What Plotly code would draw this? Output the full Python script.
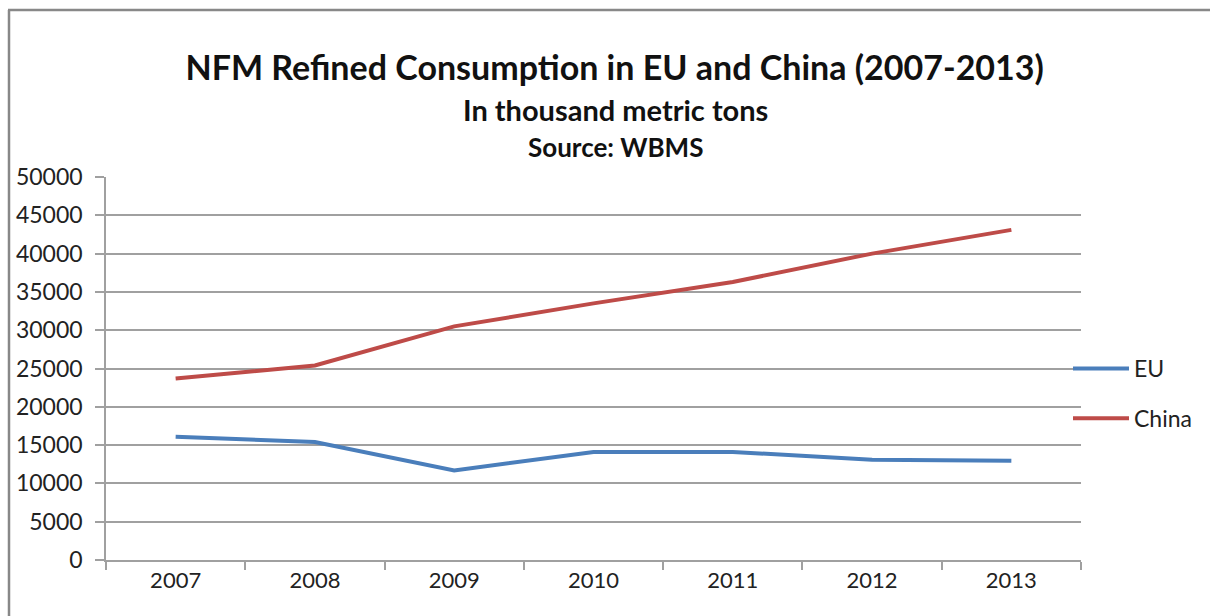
import plotly.graph_objects as go

years = ["2007", "2008", "2009", "2010", "2011", "2012", "2013"]
eu = [16100, 15400, 11700, 14100, 14100, 13100, 12950]
china = [23700, 25400, 30500, 33500, 36300, 40000, 43100]
y_ticks = [0, 5000, 10000, 15000, 20000, 25000, 30000, 35000, 40000, 45000, 50000]

FONT = "Lato"
W, H = 1210, 616
L, R, T, B = 106, 1081, 177, 560

fig = go.Figure()
fig.add_trace(go.Scatter(x=years, y=eu, name="EU", mode="lines",
                         line=dict(color="#4A7EBB", width=4), legendgroup="a"))
fig.add_trace(go.Scatter(x=years, y=china, name="China", mode="lines",
                         line=dict(color="#BE4B48", width=4), legendgroup="b"))

def py(px):
    return 1 + (T - px) / (B - T)

def pxp(px):
    return (px - L) / (R - L)

fig.update_layout(
    width=W, height=H, autosize=False,
    margin=dict(l=L, r=W - R, t=T, b=H - B, pad=0),
    paper_bgcolor="white", plot_bgcolor="white",
    font=dict(family=FONT, color="#222222", size=22),
    title=dict(text="<b>NFM Refined Consumption in EU and China (2007-2013)</b>",
               x=0.508, xanchor="center", y=1 - 68 / H, yanchor="middle",
               font=dict(family=FONT, size=34, color="#111111")),
    showlegend=True,
    legend=dict(x=pxp(1068), xanchor="left", y=py(393.5), yanchor="middle",
                font=dict(family=FONT, size=23, color="#222222"),
                tracegroupgap=17, bgcolor="rgba(0,0,0,0)", itemwidth=56),
    xaxis=dict(type="category", range=[-0.5, 6.5], showgrid=False,
               showline=True, linecolor="#A0A0A0", linewidth=1.5,
               ticks="outside", ticklen=8, tickcolor="#A0A0A0", tickwidth=1.5,
               tickson="boundaries", tickfont=dict(family=FONT, size=22, color="#222222"),
               fixedrange=True),
    yaxis=dict(range=[0, 50000], tickvals=y_ticks, ticktext=[str(v) for v in y_ticks],
               showgrid=True, gridcolor="#A0A0A0", gridwidth=1.5,
               showline=True, linecolor="#A0A0A0", linewidth=1.5,
               ticks="outside", ticklen=9, tickcolor="#A0A0A0", tickwidth=1.5,
               tickfont=dict(family=FONT, size=23, color="#222222"),
               ticklabelstandoff=8, zeroline=False, fixedrange=True),
    annotations=[
        dict(text="<b>In thousand metric tons</b>", xref="paper", yref="paper",
             x=pxp(615), y=py(110), xanchor="center", yanchor="middle", showarrow=False,
             font=dict(family=FONT, size=29, color="#111111")),
        dict(text="<b>Source: WBMS</b>", xref="paper", yref="paper",
             x=pxp(615), y=py(147), xanchor="center", yanchor="middle", showarrow=False,
             font=dict(family=FONT, size=26, color="#111111")),
    ],
    shapes=[
        dict(type="line", xref="paper", yref="paper", x0=pxp(9), x1=pxp(9),
             y0=py(10), y1=py(640), line=dict(color="#888888", width=2.5)),
        dict(type="line", xref="paper", yref="paper", x0=pxp(8), x1=pxp(1240),
             y0=py(10), y1=py(10), line=dict(color="#888888", width=2.5)),
    ],
)

fig.write_html("out.html")
